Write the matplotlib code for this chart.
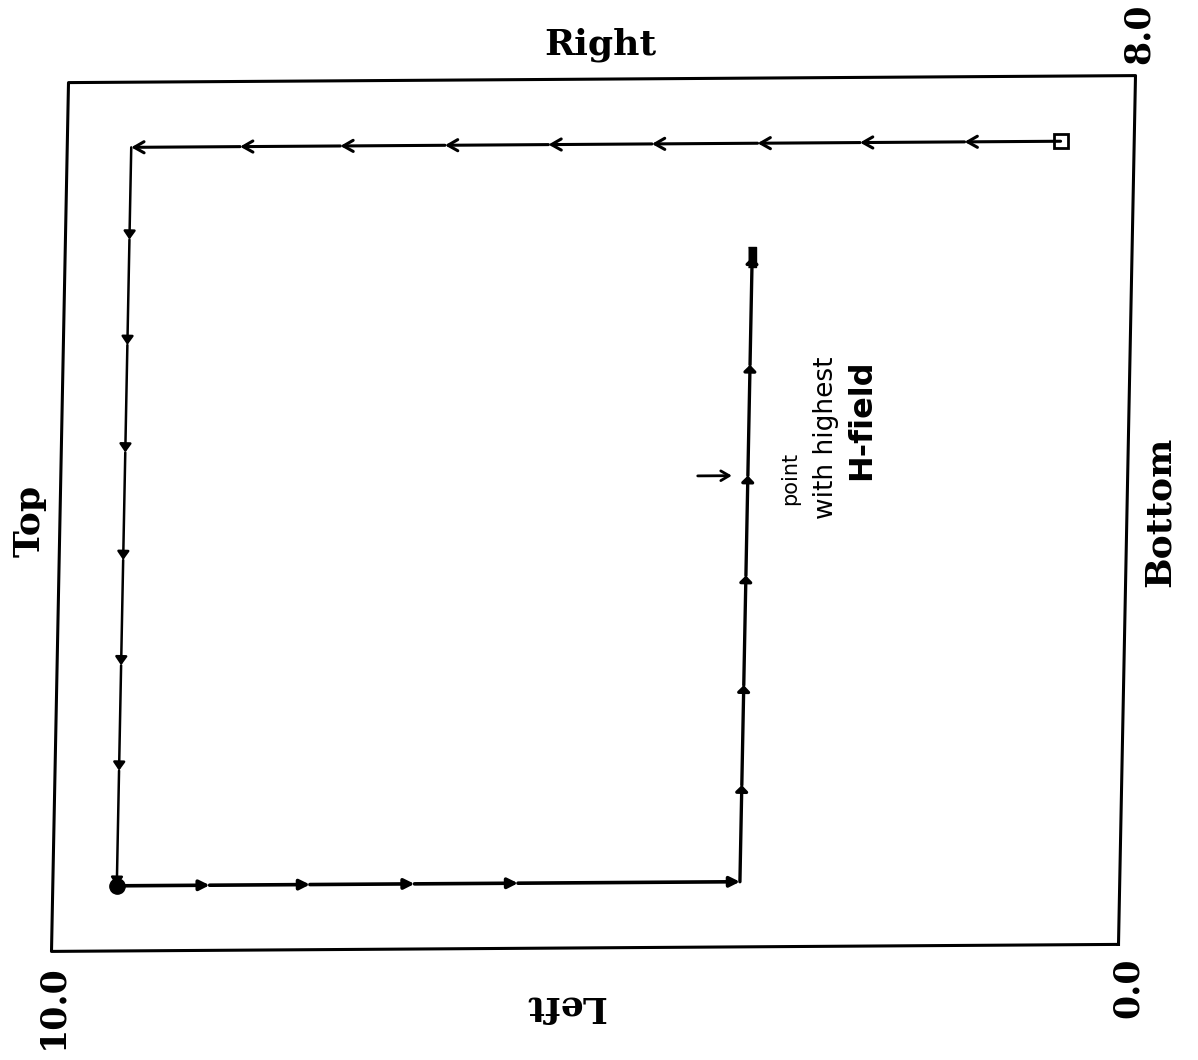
import numpy as np
import matplotlib.pyplot as plt
from matplotlib.transforms import Affine2D

# scan path in plot units: h runs 10 -> 0 across, v runs 0 -> 8 upward
top_h = [0.69, 1.59, 2.57, 3.53, 4.52, 5.49, 6.46, 7.44, 8.38, 9.4]
top_v = 7.4
left_v = [7.4, 6.55, 5.58, 4.59, 3.60, 2.63, 1.66, 0.6]
left_h = 9.4
bottom_h = [9.4, 8.53, 7.59, 6.61, 5.64, 3.56]
bottom_v = 0.6
inner_v = [0.6, 1.49, 2.41, 3.42, 4.34, 5.36, 6.35]
inner_h = 3.56
peak = (3.56, 4.34)

h_range = (0.0, 10.0)
v_range = (0.0, 8.0)

fig = plt.figure(figsize=(11.98, 10.6), dpi=100)
ax = fig.add_axes([0, 0, 1, 1])
ax.set_xlim(0, 1198)
ax.set_ylim(1060, 0)
ax.axis('off')

# plot units -> page, the sheet sits a little askew
tr = Affine2D(np.array([[-106.7, 2.125, 1118.5],
                        [0.7, -108.6, 944.4],
                        [0.0, 0.0, 1.0]])) + ax.transData

# frame
fx = [h_range[0], h_range[1], h_range[1], h_range[0], h_range[0]]
fy = [v_range[0], v_range[0], v_range[1], v_range[1], v_range[0]]
ax.plot(fx, fy, color='black', lw=2.2, transform=tr)


def leg(hs, vs, style, lw):
    for i in range(1, len(hs)):
        ax.annotate('', xy=(hs[i], vs[i]), xytext=(hs[i - 1], vs[i - 1]),
                    xycoords=tr, textcoords=tr,
                    arrowprops=dict(arrowstyle=style, lw=lw, color='black',
                                    shrinkA=0, shrinkB=0))


leg(top_h, [top_v] * len(top_h), '->,head_length=0.7,head_width=0.4', 2.2)
leg([left_h] * len(left_v), left_v, '-|>,head_length=0.5,head_width=0.35', 1.8)
leg(bottom_h, [bottom_v] * len(bottom_h), '-|>,head_length=0.6,head_width=0.3', 2.6)
leg([inner_h] * len(inner_v), inner_v, '-|>,head_length=0.35,head_width=0.35', 2.4)

# start, turn and end markers
ax.plot([top_h[0]], [top_v], marker='s', ms=10, mfc='white', mec='black',
        mew=2, transform=tr)
ax.plot([left_h], [left_v[-1]], marker='o', ms=11, color='black', transform=tr)
ax.plot([inner_h], [inner_v[-1]], marker=[(-1, -2.5), (1, -2.5), (1, 2.5), (-1, 2.5)],
        ms=15, color='black', transform=tr)

# note on the point with the strongest field
ax.annotate('', xy=(peak[0] + 0.15, peak[1]), xytext=(peak[0] + 0.47, peak[1]),
            xycoords=tr, textcoords=tr,
            arrowprops=dict(arrowstyle='->,head_length=0.6,head_width=0.35',
                            lw=2, color='black', shrinkA=0, shrinkB=0))
hand = dict(rotation=90, ha='center', va='center', family='DejaVu Sans',
            color='black')
ax.text(790, 478, 'point', fontsize=15, **hand)
ax.text(826, 438, 'with highest', fontsize=19, **hand)
ax.text(862, 420, 'H-field', fontsize=23, weight='bold', **hand)

# side labels and corner values
lab = dict(family='DejaVu Serif', weight='bold', ha='center', va='center',
           color='black')
ax.text(600, 45, 'Right', fontsize=26, **lab)
ax.text(30, 521, 'Top', fontsize=26, rotation=90, **lab)
ax.text(1160, 512, 'Bottom', fontsize=26, rotation=90, **lab)
ax.text(565, 1007, 'Left', fontsize=26, rotation=180, **lab)
ax.text(52, 1007, '%.1f' % h_range[1], fontsize=25, rotation=90, **lab)
ax.text(1128, 988, '%.1f' % h_range[0], fontsize=25, rotation=90, **lab)
ax.text(1139, 34, '%.1f' % v_range[1], fontsize=25, rotation=90, **lab)

fig.savefig('out.png', dpi=100)
